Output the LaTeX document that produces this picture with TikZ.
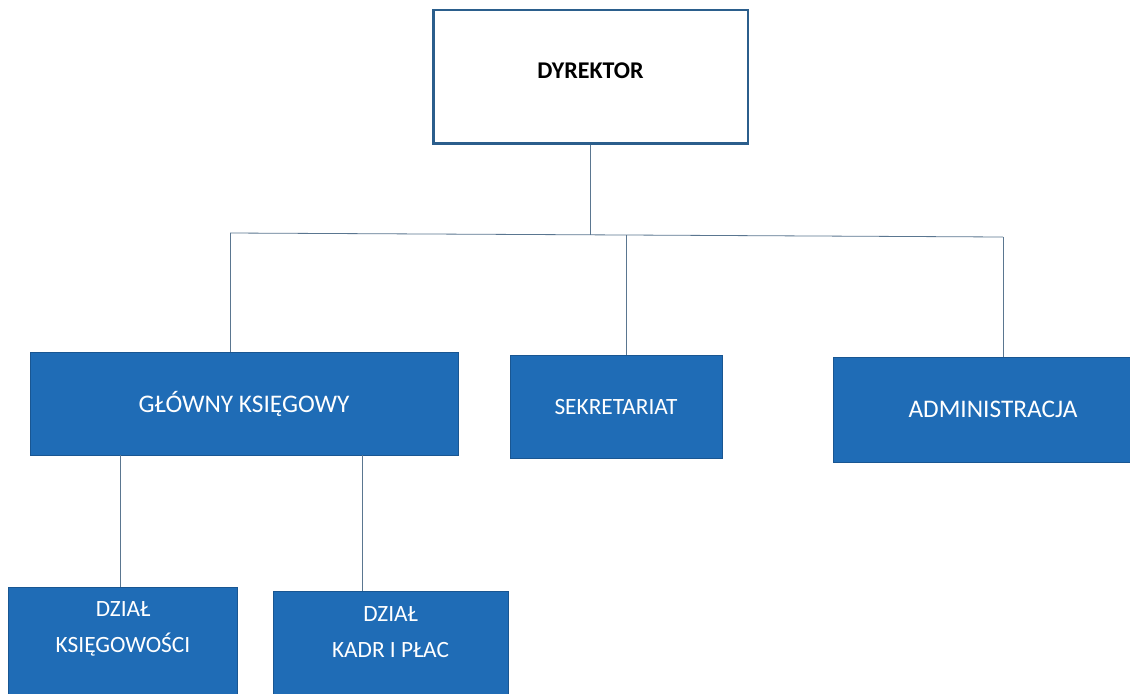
\documentclass[tikz,border=0pt]{standalone}
\usepackage{fontspec}
\setmainfont{Carlito}
\definecolor{boxblue}{HTML}{1F6CB6}
\definecolor{edgeblue}{HTML}{2B5E8C}
\definecolor{linegray}{HTML}{5A7690}
\tikzset{
    unit/.style={fill=boxblue, draw=boxblue!80!black, text=white, inner sep=0pt, font=\fontsize{19}{22}\selectfont, align=center},
    small unit/.style={unit, font=\fontsize{17.5}{27}\selectfont},
    head/.style={fill=white, draw=edgeblue, line width=2pt, inner sep=0pt, font=\fontsize{18}{20}\selectfont\bfseries},
    conn/.style={draw=linegray, line width=0.6pt}
}
\begin{document}
\begin{tikzpicture}[x=0.75pt, y=-0.75pt]
    \clip (0,0) rectangle (1130,693);
    \fill[white] (0,0) rectangle (1130,693);

    \node[head, minimum width=236pt, minimum height=100pt] (dyr) at (590.5,76.5) {\raisebox{9.5pt}{DYREKTOR}};

    \node[unit, minimum width=321pt, minimum height=77pt] (gk) at (244,403.5) {GŁÓWNY KSIĘGOWY};
    \node[small unit, minimum width=159pt, minimum height=77pt] (sek) at (616,407) {SEKRETARIAT};
    \node[unit, minimum width=240pt, minimum height=79pt] (adm) at (993,409.5) {ADMINISTRACJA};

    \node[small unit, minimum width=172pt, minimum height=82pt] (dk) at (123,642) {\raisebox{6.8pt}[0pt][0pt]{\begin{tabular}{c}DZIAŁ\\KSIĘGOWOŚCI\end{tabular}}};
    \node[small unit, minimum width=176pt, minimum height=80pt] (dkp) at (390.5,645) {\raisebox{5.5pt}[0pt][0pt]{\begin{tabular}{c}DZIAŁ\\KADR I PŁAC\end{tabular}}};

    \coordinate (b1) at (230,233);
    \coordinate (b2) at (626,235);
    \coordinate (b3) at (1003,237);
    \coordinate (c1) at (120,0);
    \coordinate (c2) at (362,0);

    \draw[conn] (dyr.south) -- (dyr.south |- b2);
    \draw[conn] (b1) -- (b2) -- (b3);
    \draw[conn] (b1) -- (b1 |- gk.north);
    \draw[conn] (b2) -- (b2 |- sek.north);
    \draw[conn] (b3) -- (b3 |- adm.north);
    \draw[conn] (c1 |- gk.south) -- (c1 |- dk.north);
    \draw[conn] (c2 |- gk.south) -- (c2 |- dkp.north);
\end{tikzpicture}
\end{document}
